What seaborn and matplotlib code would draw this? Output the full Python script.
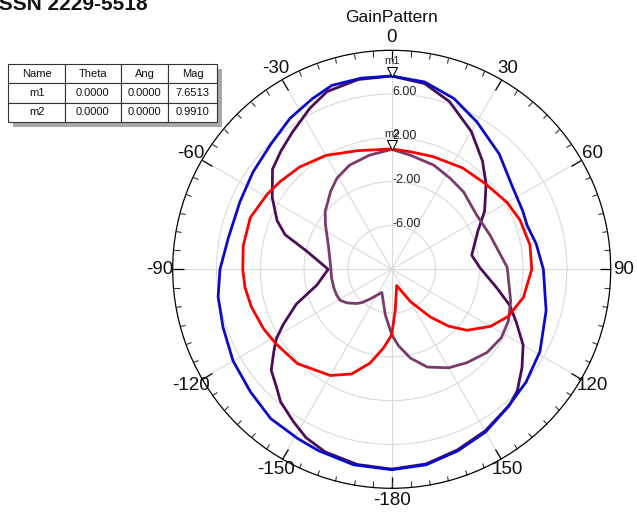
import numpy as np
import pandas as pd
import matplotlib
matplotlib.use("Agg")
import matplotlib.pyplot as plt
import matplotlib.transforms as mtransforms
from matplotlib.patches import Rectangle
import seaborn as sns

sns.set_theme(style="white")
plt.rcParams["font.family"] = ["Liberation Sans", "DejaVu Sans"]

# Gain traces: angle (deg, clockwise from 0 at top) and gain (dB)
blue_theta = [-180, -169, -158, -151, -141, -131, -120, -109, -99, -90, -79, -66,
              -55, -44, -34, -25, -18, -9, 0, 10, 20, 30, 43, 56, 66, 72, 80, 90,
              105, 119, 130, 140, 150, 160, 170, 180]
blue_gain = [8.3, 8.19, 7.86, 7.68, 7.55, 7.08, 6.73, 6.29, 6.05, 5.68, 5.19, 5.17,
             5.47, 5.89, 6.62, 7.18, 7.66, 7.68, 7.6513, 7.37, 6.6, 5.55, 4.4, 3.34,
             3.1, 3.0, 3.4, 3.85, 4.6, 5.48, 6.02, 6.46, 7.15, 7.65, 8.13, 8.3]

purple_theta = [-180, -170, -160, -153, -147, -140, -136, -130, -125, -121, -117,
                -110, -102, -90, -78, -72, -67, -59, -50, -43, -36, -27, -20, -10,
                0, 10, 19, 30, 40, 48, 58, 66, 80, 89, 100, 107, 113, 120, 127, 134,
                139, 150, 160, 170, 180]
purple_gain = [8.25, 8.1, 7.75, 7.25, 6.54, 5.79, 5.1, 4.36, 3.15, 2.29, 1.12,
               -0.74, -3.0, -4.2, -2.07, 0.24, 1.37, 2.73, 4.21, 4.81, 5.45, 6.49,
               7.27, 7.6, 7.65, 7.23, 6.2, 4.54, 2.9, 1.6, 0.0, -1.38, -2.58, -1.94,
               -0.26, 1.28, 2.36, 3.86, 4.9, 5.95, 6.42, 7.05, 7.55, 8.05, 8.25]

mauve_theta = [-180, -172, -157, -144, -138, -134, -127, -121, -115, -108, -98, -90,
               -69, -56, -49, -38, -31, -22, -11, 0, 9, 22, 33, 43, 57, 71, 89, 105,
               114, 122, 131, 141, 150, 160, 168, 175, 180]
mauve_gain = [-4.05, -5.8, -7.7, -6.65, -5.9, -5.5, -4.9, -4.5, -4.45, -4.45, -4.45,
              -4.45, -3.8, -2.7, -1.95, -0.95, -0.29, 0.26, 0.62, 0.95, 0.57, 0.26,
              -0.13, -0.36, -0.79, -0.49, 0.55, 1.25, 1.66, 1.8, 1.56, 0.96, 0.39,
              -0.5, -1.7, -3.0, -4.05]

red_theta = [-180, -174, -167, -159, -150, -135, -123, -115, -105, -97, -90, -81,
             -70, -59, -52, -42, -30, -16, 0, 9, 20, 35, 48, 60, 69, 80, 90, 102,
             112, 120, 129, 135, 141, 150, 163, 175, 180]
red_gain = [-4.0, -2.77, -1.21, 0.24, 1.2, 2.18, 2.56, 2.9, 3.27, 3.5, 3.6, 3.73,
            3.75, 3.28, 2.97, 2.57, 2.01, 1.27, 0.991, 0.87, 0.96, 1.3, 1.6, 2.18,
            2.55, 2.82, 2.79, 2.3, 1.48, 0.42, -1.15, -2.66, -4.4, -6.6, -8.45,
            -6.27, -4.0]

angle_ticks = [0, 30, 60, 90, 120, 150, 180, -150, -120, -90, -60, -30]
angle_labels = ["0", "30", "60", "90", "120", "150", "-180", "-150", "-120",
                "-90", "-60", "-30"]
ring_values = [-6, -2, 2, 6]

marker_names = ["m1", "m2"]
marker_theta = [0.0, 0.0]
marker_ang = [0.0, 0.0]
marker_mag = [7.6513, 0.9910]

trace_colors = {"blue": "#0A0ACD", "purple": "#4A0D57",
                "mauve": "#7A3B6C", "red": "#FF0000"}

frames = []
for name, th, g in [("purple", purple_theta, purple_gain),
                    ("mauve", mauve_theta, mauve_gain),
                    ("red", red_theta, red_gain),
                    ("blue", blue_theta, blue_gain)]:
    frames.append(pd.DataFrame({"theta": np.deg2rad(th), "gain": g, "trace": name}))
df = pd.concat(frames, ignore_index=True)

W, H = 637, 512
fig = plt.figure(figsize=(W / 100, H / 100), dpi=100)
cx, cy, R = 391.7, 269.3, 219.0
ax = fig.add_axes([(cx - R) / W, (H - cy - R) / H, 2 * R / W, 2 * R / H],
                  projection="polar")
ax.set_theta_zero_location("N")
ax.set_theta_direction(-1)

sns.lineplot(data=df, x="theta", y="gain", hue="trace", palette=trace_colors,
             sort=False, estimator=None, linewidth=2.0, legend=False, ax=ax)
ax.set_xlabel("")
ax.set_ylabel("")
ax.set_thetalim(-np.pi, np.pi)
ax.set_rlim(-10, 10)

# angular ticks and labels
ax.set_xticks(np.deg2rad(angle_ticks))
ax.set_xticklabels(angle_labels, fontsize=13.5, color="#111111")
ax.set_xticks(np.deg2rad(np.arange(-180, 180, 5)), minor=True)
ax.tick_params(axis="x", which="major", direction="in", length=8, width=0.9,
               color="black", pad=2, bottom=False, top=True)
ax.tick_params(axis="x", which="minor", direction="in", length=4, width=0.8,
               color="#333333", bottom=False, top=True)

# radial rings
ax.set_yticks(ring_values)
ax.set_yticklabels([])
ax.grid(True, which="major", color="#DADADA", linewidth=0.8)
ax.spines["polar"].set_color("black")
ax.spines["polar"].set_linewidth(0.9)

lab_tr = mtransforms.offset_copy(ax.transData, fig=fig, x=1, y=2, units="dots")
for v in ring_values:
    ax.text(0, v, f"{v:.2f}", transform=lab_tr, ha="left", va="center",
            fontsize=9, color="#222222")

# markers
tri_tr = mtransforms.offset_copy(ax.transData, fig=fig, x=0, y=4, units="dots")
txt_tr = mtransforms.offset_copy(ax.transData, fig=fig, x=0, y=15, units="dots")
for name, th, mag in zip(marker_names, marker_theta, marker_mag):
    ax.plot([np.deg2rad(th)], [mag], marker="v", markersize=6.5,
            markerfacecolor="white", markeredgecolor="black",
            markeredgewidth=0.8, transform=tri_tr, clip_on=False, zorder=6)
    ax.text(np.deg2rad(th), mag, name, transform=txt_tr, ha="center",
            va="center", fontsize=8, color="#222222", zorder=6)

# title and page header
fig.text(cx / W, 1 - 17 / H, "GainPattern", ha="center", va="center",
         fontsize=12.5, color="#111111")
fig.text(-7 / W, 1 - 10.5 / H, "ISSN 2229-5518", ha="left", va="baseline",
         fontsize=15, weight="bold", color="#111111")

# marker table
tx0, ty0, tw, th_ = 8.3, 64.3, 208.7, 57.4
tab_ax = fig.add_axes([tx0 / W, (H - ty0 - th_) / H, tw / W, th_ / H])
tab_ax.axis("off")
tab_ax.add_patch(Rectangle((5 / tw, -5 / th_), 1, 1, transform=tab_ax.transAxes,
                           facecolor="#A8A8A8", edgecolor="none", clip_on=False,
                           zorder=1))
rows = [[n, f"{t:.4f}", f"{a:.4f}", f"{m:.4f}"]
        for n, t, a, m in zip(marker_names, marker_theta, marker_ang, marker_mag)]
col_w = np.array([56.7, 55.7, 47.6, 48.7])
table = tab_ax.table(cellText=rows, colLabels=["Name", "Theta", "Ang", "Mag"],
                     cellLoc="center", colWidths=list(col_w / col_w.sum()),
                     bbox=[0, 0, 1, 1])
table.auto_set_font_size(False)
table.set_fontsize(8)
table.set_zorder(3)
for cell in table.get_celld().values():
    cell.set_facecolor("white")
    cell.set_edgecolor("#333333")
    cell.set_linewidth(0.8)
    cell.get_text().set_color("#111111")

fig.savefig("out.png", dpi=100, facecolor="white")
